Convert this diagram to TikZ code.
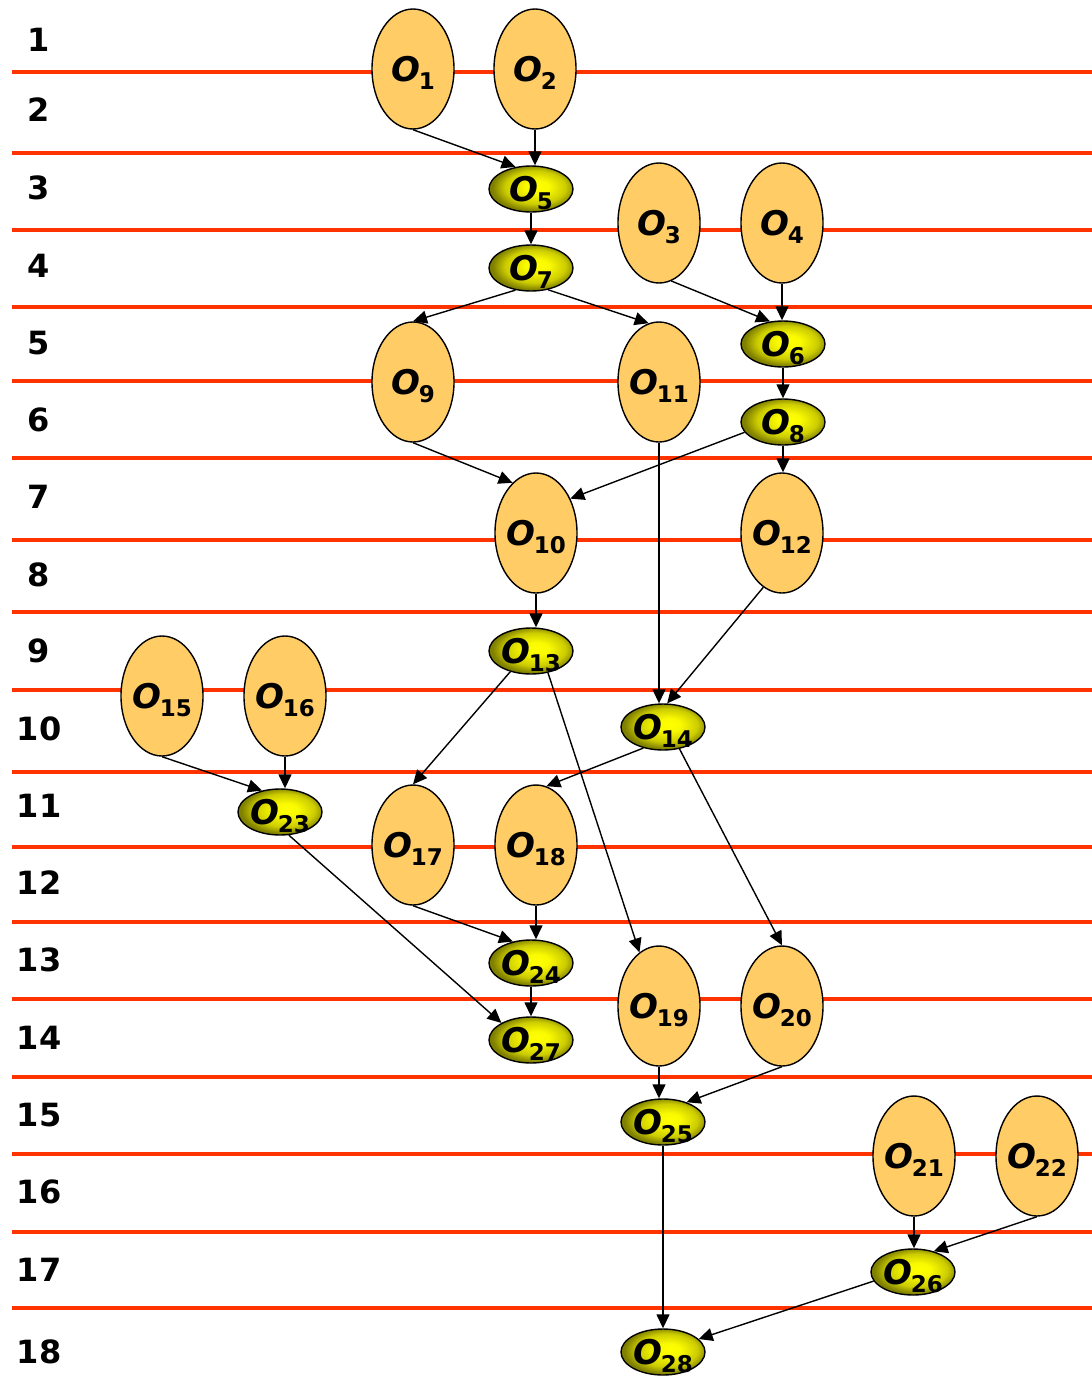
\documentclass[tikz,border=0pt]{standalone}
\usepackage{fontspec}
\setmainfont{DejaVu Sans}
\usetikzlibrary{shapes.geometric,arrows.meta}
\definecolor{stageRed}{HTML}{FF3300}
\definecolor{opOrange}{HTML}{FFCC66}
\definecolor{opOlive}{HTML}{808000}
\pgfdeclareradialshading{opGlow}{\pgfpoint{4bp}{3bp}}{color(0bp)=(yellow);
    color(7bp)=(yellow!96!opOlive); color(18bp)=(yellow!60!opOlive);
    color(25bp)=(opOlive); color(50bp)=(opOlive)}
\newcommand{\opLabel}[1]{\textbf{\textit{O}}\kern-1pt\raisebox{-8pt}{\fontsize{23}{23}\selectfont\bfseries #1}}
\tikzset{bigOp/.style={ellipse,draw,line width=1.4pt,fill=opOrange,
        minimum width=82pt,minimum height=120pt,inner sep=0pt},
    smallOp/.style={ellipse,draw,line width=1.4pt,shading=opGlow,
        minimum width=84pt,minimum height=46pt,inner sep=0pt},
    opText/.style={yshift=-4pt,font=\fontsize{34}{34}\selectfont},
    stageLine/.style={stageRed,line width=4pt},
    stageNum/.style={font=\fontsize{32}{32}\selectfont\bfseries},
    dep/.style={-{Triangle[length=14pt,width=13pt]},line width=1.4pt},
    }

\begin{document}
\begin{tikzpicture}[x=1pt,y=-1pt]
	\useasboundingbox (0,0) rectangle (1092,1377);
	% stage boundaries and stage numbers
	\foreach \ly in {72,153,230,307,381,458,540,612,690,772,847,922,999,1077,1154,1232,1308}
		\draw[stageLine] (12,\ly) -- (1092,\ly);
	\foreach \i/\ny in {1/40,2/110,3/188,4/266,5/343,6/420,7/497,8/575,9/651,10/729,11/806,12/883,13/960,14/1038,15/1115,16/1192,17/1270,18/1352}
		\node[stageNum] (stage\i) at (39,\ny) {\i};

	% operations
	\node[bigOp,label={[opText]center:\opLabel{1}}] (o1) at (413,69) {};
	\node[bigOp,label={[opText]center:\opLabel{2}}] (o2) at (535,69) {};
	\node[bigOp,label={[opText]center:\opLabel{3}}] (o3) at (659,223) {};
	\node[bigOp,label={[opText]center:\opLabel{4}}] (o4) at (782,223) {};
	\node[smallOp,label={[opText]center:\opLabel{5}}] (o5) at (531,189) {};
	\node[smallOp,label={[opText]center:\opLabel{7}}] (o7) at (531,268) {};
	\node[smallOp,label={[opText]center:\opLabel{6}}] (o6) at (783,344) {};
	\node[smallOp,label={[opText]center:\opLabel{8}}] (o8) at (783,422) {};
	\node[bigOp,label={[opText]center:\opLabel{9}}] (o9) at (413,382) {};
	\node[bigOp,label={[opText]center:\opLabel{11}}] (o11) at (659,382) {};
	\node[bigOp,label={[opText]center:\opLabel{10}}] (o10) at (536,533) {};
	\node[bigOp,label={[opText]center:\opLabel{12}}] (o12) at (782,533) {};
	\node[smallOp,label={[opText]center:\opLabel{13}}] (o13) at (531,651) {};
	\node[smallOp,label={[opText]center:\opLabel{14}}] (o14) at (663,727) {};
	\node[bigOp,label={[opText]center:\opLabel{15}}] (o15) at (162,696) {};
	\node[bigOp,label={[opText]center:\opLabel{16}}] (o16) at (285,696) {};
	\node[smallOp,label={[opText]center:\opLabel{23}}] (o23) at (280,812) {};
	\node[bigOp,label={[opText]center:\opLabel{17}}] (o17) at (413,845) {};
	\node[bigOp,label={[opText]center:\opLabel{18}}] (o18) at (536,845) {};
	\node[smallOp,label={[opText]center:\opLabel{24}}] (o24) at (531,963) {};
	\node[smallOp,label={[opText]center:\opLabel{27}}] (o27) at (531,1040) {};
	\node[bigOp,label={[opText]center:\opLabel{19}}] (o19) at (659,1006) {};
	\node[bigOp,label={[opText]center:\opLabel{20}}] (o20) at (782,1006) {};
	\node[smallOp,label={[opText]center:\opLabel{25}}] (o25) at (663,1122) {};
	\node[bigOp,label={[opText]center:\opLabel{21}}] (o21) at (914,1156) {};
	\node[bigOp,label={[opText]center:\opLabel{22}}] (o22) at (1037,1156) {};
	\node[smallOp,label={[opText]center:\opLabel{26}}] (o26) at (913,1272) {};
	\node[smallOp,label={[opText]center:\opLabel{28}}] (o28) at (663,1352) {};

	% precedence
	\draw[dep] (o1.south) -- (o5.125);
	\draw[dep] (o2.south) -- (o2.south |- o5.north);
	\draw[dep] (o5.south) -- (o7.north);
	\draw[dep] (o7.235) -- (o9.north);
	\draw[dep] (o7.308) -- (o11.100);
	\draw[dep] (o3.282) -- (o6.120);
	\draw[dep] (o4.south) -- (o4.south |- o6.north);
	\draw[dep] (o6.south) -- (o8.north);
	\draw[dep] (o9.south) -- (o10.115);
	\draw[dep] (o8.195) -- (o10.45);
	\draw[dep] (o8.south) -- (o8.south |- o12.north);
	\draw[dep] (o11.south) -- (o11.south |- o14.north);
	\draw[dep] (o10.south) -- (o10.south |- o13.north);
	\draw[dep] (o12.251) -- (o14.80);
	\draw[dep] (o13.225) -- (o17.north);
	\draw[dep] (o13.308) -- (o19.110);
	\draw[dep] (o14.227) -- (o18.80);
	\draw[dep] (o14.307) -- (o20.north);
	\draw[dep] (o15.south) -- (o23.130);
	\draw[dep] (o16.south) -- (o16.south |- o23.north);
	\draw[dep] (o23.291) -- (o27.150);
	\draw[dep] (o17.south) -- (o24.130);
	\draw[dep] (o18.south) -- (o18.south |- o24.north);
	\draw[dep] (o24.south) -- (o27.north);
	\draw[dep] (o19.south) -- (o19.south |- o25.north);
	\draw[dep] (o20.south) -- (o25.40);
	\draw[dep] (o25.south) -- (o28.north);
	\draw[dep] (o21.south) -- (o21.south |- o26.north);
	\draw[dep] (o22.south) -- (o26.45);
	\draw[dep] (o26.193) -- (o28.20);
\end{tikzpicture}
\end{document}
